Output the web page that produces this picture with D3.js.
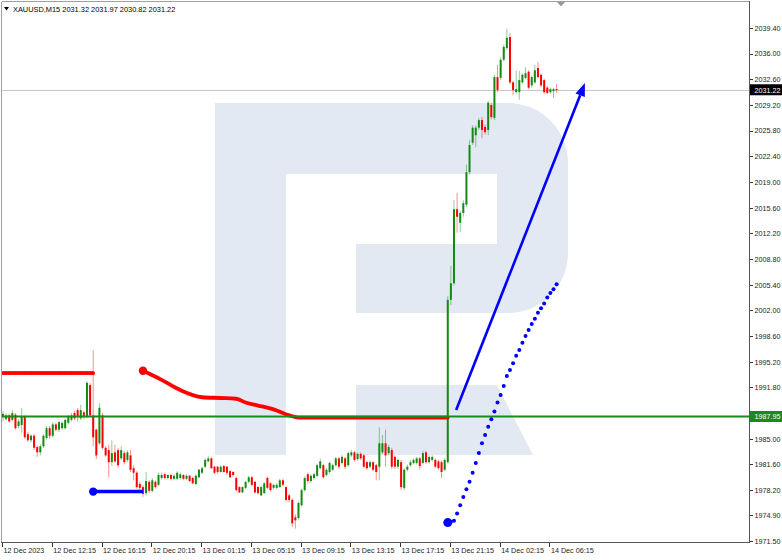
<!DOCTYPE html>
<html><head><meta charset="utf-8">
<script src="https://cdn.jsdelivr.net/npm/d3@7"></script>
<style>body{margin:0;background:#fff}svg{display:block}text{font-family:"Liberation Sans",Arial,sans-serif}</style>
</head><body><svg id="c" width="782" height="560"></svg>
<script>
// ---- data (XAUUSD M15) ----
const symbolTitle = "XAUUSD,M15";
const headerValues = ["2031.32","2031.97","2030.82","2031.22"];
const opens = [
1987.9,1987.6,1988.1,1987.5,1988.2,1986.7,1986.8,1987.9,1985.6,1984.8,
1985.4,1983.9,1983.2,1984.0,1985.1,1986.4,1985.4,1986.9,1986.2,1986.4,
1986.4,1987.1,1987.5,1988.4,1988.8,1987.7,1988.5,1987.9,1992.1,1988.1,
1986.2,1984.4,1988.1,1983.8,1983.5,1981.9,1983.2,1983.5,1982.4,1983.1,
1982.2,1982.8,1981.1,1980.5,1979.0,1978.6,1977.8,1979.3,1978.1,1979.3,
1978.9,1979.8,1980.3,1979.8,1980.2,1979.7,1979.7,1979.8,1980.2,1979.7,
1980.1,1979.8,1979.0,1979.9,1980.5,1981.3,1982.0,1982.4,1981.3,1981.3,
1980.6,1981.4,1981.3,1980.7,1980.6,1979.8,1978.6,1977.9,1978.5,1979.3,
1979.9,1979.3,1978.6,1977.5,1977.8,1979.8,1979.1,1978.5,1978.5,1978.6,
1979.5,1978.6,1977.5,1976.9,1974.6,1974.5,1976.2,1978.2,1980.3,1979.4,
1979.8,1980.1,1981.1,1981.5,1980.2,1980.6,1980.9,1981.5,1982.4,1981.8,
1982.4,1981.5,1982.8,1983.2,1982.3,1983.0,1982.8,1981.9,1981.3,1981.9,
1981.5,1981.3,1983.2,1984.4,1983.1,1983.5,1982.6,1981.3,1981.9,1978.5,
1980.9,1981.5,1981.8,1981.8,1982.4,1981.8,1983.2,1981.9,1982.2,1982.2,
1982.0,1981.9,1980.9,1981.9,2003.4,2005.6,2015.4,2013.6,2014.9,2016.0,
2020.3,2024.2,2025.2,2026.2,2027.2,2026.3,2025.9,2029.2,2027.5,2032.9,
2032.8,2035.2,2036.75,2038.2,2032.2,2030.9,2030.9,2032.2,2032.8,2033.6,
2031.8,2032.2,2034.1,2033.2,2032.5,2031.5,2030.9,2031.05,2031.32];
const highs = [
1988.7,1988.4,1988.3,1988.8,1988.4,1987.6,1989.1,1988.1,1985.9,1985.6,
1985.6,1984.1,1984.3,1985.6,1986.7,1986.7,1987.2,1987.1,1987.4,1987.3,
1987.7,1988.1,1988.4,1988.7,1989.1,1989.5,1988.7,1992.6,1992.4,1996.75,
1986.4,1989.7,1988.4,1984.0,1984.2,1984.8,1984.2,1983.8,1984.0,1983.4,
1983.5,1983.5,1981.5,1980.7,1979.3,1978.9,1980.6,1979.5,1979.8,1979.5,
1980.5,1980.5,1980.5,1980.3,1980.3,1980.3,1980.7,1980.5,1980.3,1980.3,
1980.2,1980.0,1980.3,1981.0,1981.3,1982.4,1982.7,1982.6,1981.4,1981.4,
1981.5,1981.5,1981.4,1980.9,1980.7,1980.0,1978.7,1978.7,1979.4,1980.1,
1980.1,1979.4,1978.7,1978.8,1979.3,1980.0,1979.3,1979.0,1979.1,1979.7,
1979.7,1978.7,1977.7,1977.1,1975.0,1976.7,1978.4,1980.0,1980.5,1980.3,
1980.5,1981.7,1982.4,1981.7,1981.1,1982.0,1981.7,1982.6,1982.6,1982.8,
1982.6,1983.3,1983.5,1983.4,1983.2,1983.2,1983.0,1982.1,1982.1,1982.0,
1981.7,1986.5,1985.5,1986.2,1984.2,1983.8,1982.8,1982.4,1982.2,1981.1,
1981.6,1982.2,1982.4,1982.6,1982.6,1983.4,1983.4,1982.8,1982.8,1982.4,
1982.2,1982.1,1982.4,2003.9,2007.9,2016.6,2017.55,2015.2,2016.6,2021.3,
2024.6,2026.5,2026.5,2027.5,2027.6,2026.6,2029.8,2029.5,2033.2,2034.5,
2035.5,2037.2,2039.3,2038.7,2032.4,2033.8,2033.7,2033.4,2034.2,2033.8,
2033.1,2034.5,2034.9,2033.4,2032.7,2031.7,2031.5,2031.5,2031.97];
const lows = [
1987.3,1987.4,1987.1,1987.3,1986.2,1986.4,1985.8,1985.0,1984.6,1984.5,
1983.5,1982.6,1982.8,1983.8,1984.9,1985.0,1985.2,1986.0,1985.9,1986.2,
1986.2,1986.9,1987.3,1987.5,1987.3,1987.5,1987.6,1987.7,1987.9,1984.0,
1982.3,1984.2,1983.6,1982.6,1979.9,1981.4,1981.8,1981.2,1982.2,1981.6,
1981.9,1980.6,1979.5,1978.4,1978.2,1977.3,1977.5,1977.8,1977.9,1978.4,
1978.7,1979.6,1979.6,1979.6,1979.5,1979.5,1979.5,1979.6,1979.5,1979.5,
1979.3,1979.0,1978.9,1979.8,1980.3,1981.1,1981.9,1981.0,1980.3,1980.3,
1980.5,1980.5,1980.2,1979.8,1980.0,1978.0,1977.8,1977.8,1978.3,1979.1,
1978.7,1977.7,1977.6,1977.4,1977.7,1978.3,1978.0,1978.3,1978.3,1978.5,
1978.7,1976.7,1976.6,1973.3,1973.1,1974.3,1976.0,1978.0,1979.1,1979.2,
1979.6,1979.9,1980.9,1979.7,1980.0,1980.4,1980.7,1981.3,1981.0,1981.6,
1981.0,1981.3,1982.6,1982.0,1982.1,1982.2,1981.1,1980.9,1981.1,1980.7,
1979.5,1979.5,1983.0,1981.3,1982.8,1981.0,1981.0,1981.0,1978.3,1978.2,
1980.7,1981.3,1981.6,1981.6,1980.9,1981.6,1981.7,1981.7,1982.0,1981.1,
1980.9,1979.8,1980.7,1981.7,2002.7,2005.3,2012.3,2012.4,2014.4,2015.7,
2020.0,2023.9,2023.6,2025.9,2024.8,2025.3,2025.2,2027.3,2027.2,2030.9,
2032.5,2035.0,2036.5,2032.0,2030.5,2030.7,2029.9,2032.0,2032.6,2031.3,
2031.5,2032.0,2032.7,2031.6,2030.7,2030.6,2030.7,2030.1,2030.82];
const closes = [
1988.3,1988.1,1987.3,1988.4,1986.4,1987.3,1987.9,1985.2,1984.8,1985.4,
1983.8,1983.2,1984.0,1985.4,1986.4,1985.4,1986.9,1986.2,1987.2,1987.1,
1987.5,1987.9,1988.1,1987.7,1987.9,1988.8,1987.9,1992.4,1988.1,1985.2,
1982.8,1989.1,1983.8,1982.8,1981.9,1983.1,1982.0,1981.5,1983.5,1981.9,
1983.2,1980.9,1980.5,1978.6,1978.5,1977.7,1979.4,1978.1,1979.5,1978.6,
1980.2,1980.2,1979.8,1980.2,1979.7,1980.1,1980.5,1980.3,1979.7,1980.1,
1979.4,1979.1,1980.1,1980.9,1981.1,1982.2,1982.4,1981.1,1980.5,1980.6,
1981.3,1980.6,1980.5,1979.9,1980.2,1978.2,1977.9,1978.6,1979.3,1979.9,
1978.9,1977.9,1977.8,1978.6,1979.1,1978.5,1978.2,1978.9,1978.9,1979.5,
1978.9,1976.9,1976.9,1973.8,1974.2,1976.5,1978.2,1979.8,1979.4,1980.1,
1980.3,1981.5,1982.0,1979.9,1980.9,1981.8,1981.5,1982.4,1981.3,1982.6,
1981.3,1983.1,1983.2,1982.2,1983.0,1982.4,1981.3,1981.1,1981.9,1980.9,
1980.6,1984.4,1984.4,1982.8,1983.9,1981.3,1981.3,1982.2,1978.6,1980.9,
1981.3,1981.9,1982.2,1982.4,1981.4,1983.1,1981.9,1982.6,1982.6,1981.3,
1981.1,1980.6,1982.2,2003.4,2005.6,2015.4,2014.4,2014.9,2016.2,2020.3,
2023.9,2026.2,2026.2,2027.2,2025.9,2025.6,2029.5,2027.6,2032.9,2031.2,
2035.2,2036.9,2038.1,2032.2,2031.2,2031.3,2032.5,2033.2,2033.4,2031.5,
2032.9,2033.8,2032.9,2031.8,2030.9,2030.8,2031.3,2031.3,2031.22];

const timeLabels = ["12 Dec 2023","12 Dec 12:15","12 Dec 16:15","12 Dec 20:15","13 Dec 01:15","13 Dec 05:15","13 Dec 09:15","13 Dec 13:15","13 Dec 17:15","13 Dec 21:15","14 Dec 02:15","14 Dec 06:15"];
const timeLabelBars = [0,16,32,48,64,80,96,112,128,144,160,176];
const priceTickLabels = ["2039.40","2036.00","2032.60","2029.20","2025.80","2022.40","2019.00","2015.60","2012.20","2008.80","2005.40","2002.00","1998.60","1995.20","1991.80","1988.40","1985.00","1981.60","1978.20","1974.90","1971.50"];

const currentPrice = 2031.22;
const greenLevel = 1987.95;
// indicator: red level segment, red curve, blue level, blue dotted series
const redLevelStart = 0, redLevelEnd = 29, redLevelValue = 1993.7;
const redCurveBars = [45,51,57,64,70,75,78,82,87,92,95,143];
const redCurveValues = [1994.0,1992.8,1991.45,1990.5,1990.4,1990.3,1989.8,1989.4,1988.9,1988.1,1987.8,1987.8];
const blueLevelStart = 29, blueLevelEnd = 45, blueLevelValue = 1978.0;
const blueDotsStart = 143;
const blueDotsValues = [1973.9,1974.0,1974.14,1975.1,1976.2,1977.3,1978.3,1979.3,1980.5,1981.8,1983.1,1984.4,1985.5,1986.6,1987.6,1988.6,1989.8,1990.8,1992.0,1993.3,1994.1,1995.0,1996.0,1996.75,1997.7,1998.6,1999.4,2000.2,2000.9,2001.7,2002.3,2002.9,2003.7,2004.3,2004.8,2005.45];
const arrowBars = [145.7, 187.1];
const arrowValues = [1988.8, 2032.1];

// ---- layout ----
const svg = d3.select("#c");
const plotL = 2, plotR = 749, plotT = 2, plotB = 542;
const x = d3.scaleLinear().domain([0,176]).range([3,550.4]);
const y = d3.scaleLinear().domain([1971.5,2039.4]).range([540.7,28]);
const fs = "7.2px";

const bull = "#138a13", bear = "#ff0000";
const lvlGreen = "#1a8a1a";

svg.append("defs").append("clipPath").attr("id","clip")
  .append("rect").attr("x",plotL).attr("y",plotT).attr("width",plotR-plotL).attr("height",plotB-plotT);

// watermark logo
const wm = svg.append("g").attr("fill","#e3e9f2");
wm.append("rect").attr("x",215).attr("y",103).attr("width",71).attr("height",352);
wm.append("path").attr("d","M286,103 L508,103 A60,60 0 0 1 568,163 L568,253 A60,60 0 0 1 508,313 L356,313 L356,244 L497,244 L497,174 L286,174 Z");
wm.append("path").attr("d","M356,385 L497,385 L533,455 L356,455 Z");

const g = svg.append("g").attr("clip-path","url(#clip)");

// current price line
g.append("line").attr("x1",plotL).attr("x2",plotR)
  .attr("y1",Math.round(y(currentPrice))+0.5).attr("y2",Math.round(y(currentPrice))+0.5)
  .attr("stroke","#c8c8c8").attr("stroke-width",1);

// candles
const idx = d3.range(closes.length);
const cg = g.append("g");
cg.selectAll("line.w").data(idx).join("line").attr("class","w")
  .attr("x1",i=>x(i)).attr("x2",i=>x(i))
  .attr("y1",i=>y(highs[i])).attr("y2",i=>y(lows[i]))
  .attr("stroke",i=>closes[i]>=opens[i]?bull:bear).attr("stroke-opacity",0.45).attr("stroke-width",1);
cg.selectAll("rect.b").data(idx).join("rect").attr("class","b")
  .attr("x",i=>x(i)-1).attr("width",2)
  .attr("y",i=>y(Math.max(opens[i],closes[i])))
  .attr("height",i=>Math.max(1,Math.abs(y(opens[i])-y(closes[i]))))
  .attr("fill",i=>closes[i]>=opens[i]?bull:bear);

// red level (dotted thick)
const redLvlBars = d3.range(redLevelStart, redLevelEnd+1);
g.append("line").attr("x1",x(redLevelStart)).attr("x2",x(redLevelEnd))
  .attr("y1",y(redLevelValue)).attr("y2",y(redLevelValue))
  .attr("stroke",bear).attr("stroke-width",3.5);
g.selectAll("circle.rl").data(redLvlBars).join("circle").attr("class","rl")
  .attr("cx",i=>x(i)).attr("cy",y(redLevelValue)).attr("r",1.9).attr("fill",bear);

// red curve
const redPts = redCurveBars.map((b,k)=>[x(b),y(redCurveValues[k])]);
g.append("path").attr("d",d3.line().curve(d3.curveMonotoneX)(redPts))
  .attr("fill","none").attr("stroke",bear).attr("stroke-width",3.8).attr("stroke-linecap","round");
g.append("circle").attr("cx",x(redCurveBars[0])).attr("cy",y(redCurveValues[0])).attr("r",4.2).attr("fill",bear);

// blue level
g.append("line").attr("x1",x(blueLevelStart)).attr("x2",x(blueLevelEnd))
  .attr("y1",y(blueLevelValue)).attr("y2",y(blueLevelValue))
  .attr("stroke","#0000ff").attr("stroke-width",3.5);
g.append("circle").attr("cx",x(blueLevelStart)).attr("cy",y(blueLevelValue)).attr("r",4.2).attr("fill","#0000ff");

// green horizontal level
g.append("line").attr("x1",plotL).attr("x2",plotR)
  .attr("y1",y(greenLevel)).attr("y2",y(greenLevel))
  .attr("stroke",lvlGreen).attr("stroke-width",2);

// blue dotted series
g.selectAll("circle.bd").data(blueDotsValues).join("circle").attr("class","bd")
  .attr("cx",(v,k)=>x(blueDotsStart+k)).attr("cy",v=>y(v))
  .attr("r",(v,k)=>k===0?4.5:2).attr("fill","#0000ff");

// arrow
const ax1 = x(arrowBars[0]), ay1 = y(arrowValues[0]), ax2 = x(arrowBars[1]), ay2 = y(arrowValues[1]);
const ang = Math.atan2(ay2-ay1, ax2-ax1);
const hl = 13, hw = 5;
const bx = ax2 - hl*Math.cos(ang), by = ay2 - hl*Math.sin(ang);
g.append("line").attr("x1",ax1).attr("y1",ay1).attr("x2",bx).attr("y2",by)
  .attr("stroke","#0000ff").attr("stroke-width",2.6);
g.append("path").attr("d",`M${ax2},${ay2} L${bx+hw*Math.sin(ang)},${by-hw*Math.cos(ang)} L${bx-hw*Math.sin(ang)},${by+hw*Math.cos(ang)} Z`)
  .attr("fill","#0000ff");

// frame
svg.append("line").attr("x1",plotL-0.5).attr("x2",plotL-0.5).attr("y1",plotT).attr("y2",plotB).attr("stroke","#a0a0a0");
svg.append("line").attr("x1",plotL).attr("x2",plotR).attr("y1",plotT-0.5).attr("y2",plotT-0.5).attr("stroke","#a0a0a0");
svg.append("line").attr("x1",plotR+0.5).attr("x2",plotR+0.5).attr("y1",plotT-1).attr("y2",plotB+1).attr("stroke","#555");
svg.append("line").attr("x1",plotL-1).attr("x2",plotR+1).attr("y1",plotB+0.5).attr("y2",plotB+0.5).attr("stroke","#555");

// right price axis (the 1988.40 label sits under the green level tag, as in the reference)
const tickVals = priceTickLabels.map(Number);
const ya = svg.append("g");
ya.selectAll("line").data(tickVals).join("line")
  .attr("x1",plotR+1).attr("x2",plotR+4).attr("y1",v=>Math.round(y(v))+0.5).attr("y2",v=>Math.round(y(v))+0.5)
  .attr("stroke","#333");
ya.selectAll("text").data(priceTickLabels).join("text")
  .attr("x",754.5).attr("y",(t)=>y(+t)+2.8).attr("font-size",fs).attr("fill","#222").text(t=>t);

// bottom time axis
const xa = svg.append("g");
xa.selectAll("line").data(timeLabelBars).join("line")
  .attr("x1",b=>Math.round(x(b))-0.5).attr("x2",b=>Math.round(x(b))-0.5).attr("y1",plotB+1).attr("y2",plotB+5)
  .attr("stroke","#333");
xa.selectAll("text").data(timeLabels).join("text")
  .attr("x",(t,k)=>x(timeLabelBars[k])+0.5).attr("y",552.5).attr("font-size",fs).attr("fill","#222").text(t=>t);

// price labels
function priceTag(v, fill){
  const yy = y(v);
  svg.append("rect").attr("x",plotR+1).attr("y",yy-5.5).attr("width",782-plotR-1).attr("height",11).attr("fill",fill);
  svg.append("text").attr("x",754.5).attr("y",yy+2.8).attr("font-size",fs).attr("fill","#fff").text(v.toFixed(2));
}
priceTag(currentPrice, "#000");
priceTag(greenLevel, lvlGreen);

// header
svg.append("path").attr("d","M4,7 L9,7 L6.5,10.5 Z").attr("fill","#000");
svg.append("text").attr("x",13).attr("y",12).attr("font-size","7.4px").attr("fill","#000")
  .text(symbolTitle + "  " + headerValues.join(" "));
// shift marker
svg.append("path").attr("d","M557,2 L565,2 L561,6.5 Z").attr("fill","#9a9a9a");
</script></body></html>
